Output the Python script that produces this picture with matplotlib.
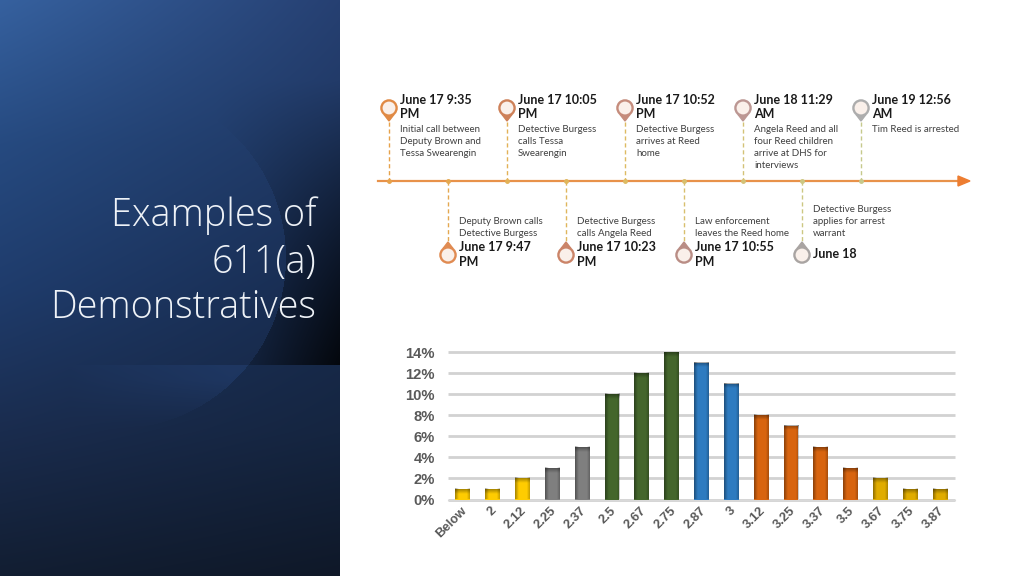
import matplotlib
matplotlib.use("Agg")
import matplotlib.pyplot as plt
from matplotlib.colors import LinearSegmentedColormap
from matplotlib.patches import Circle, Polygon
from matplotlib.transforms import ScaledTranslation
import numpy as np

plt.rcParams["font.family"] = ["Lato", "DejaVu Sans"]

title_lines = ["Examples of", "611(a)", "Demonstratives"]

top_x = [389, 507, 625, 743, 861]
top_heads = [["June 17 9:35", "PM"], ["June 17 10:05", "PM"], ["June 17 10:52", "PM"],
             ["June 18 11:29", "AM"], ["June 19 12:56", "AM"]]
top_bodies = [["Initial call between", "Deputy Brown and", "Tessa Swearengin"],
              ["Detective Burgess", "calls Tessa", "Swearengin"],
              ["Detective Burgess", "arrives at Reed", "home"],
              ["Angela Reed and all", "four Reed children", "arrive at DHS for", "interviews"],
              ["Tim Reed is arrested"]]
top_rings = ["#E08A45", "#CE8159", "#C58C7C", "#BC9793", "#ADADAD"]
top_stems = ["#E6A24A", "#E2B257", "#DDBB62", "#D3C277", "#C6C98C"]

bottom_x = [448, 566, 684, 802]
bottom_heads = [["June 17 9:47", "PM"], ["June 17 10:23", "PM"], ["June 17 10:55", "PM"], ["June 18"]]
bottom_bodies = [["Deputy Brown calls", "Detective Burgess"],
                 ["Detective Burgess", "calls Angela Reed"],
                 ["Law enforcement", "leaves the Reed home"],
                 ["Detective Burgess", "applies for arrest", "warrant"]]
bottom_rings = ["#E08B52", "#CB8468", "#B98D85", "#A9A4A2"]
bottom_stems = ["#E4A850", "#DFB65C", "#D8BF6D", "#CCC782"]

categories = ["Below", "2", "2.12", "2.25", "2.37", "2.5", "2.67", "2.75", "2.87",
              "3", "3.12", "3.25", "3.37", "3.5", "3.67", "3.75", "3.87"]
values = [1, 1, 2, 3, 5, 10, 12, 14, 13, 11, 8, 7, 5, 3, 2, 1, 1]
bar_colors = ["#FFCC00"] * 3 + ["#7F7F7F"] * 2 + ["#44662C"] * 3 + ["#2E7BC0"] * 2 + \
             ["#D8640F"] * 4 + ["#E0AC00"] * 3
y_ticks = [0, 2, 4, 6, 8, 10, 12, 14]

fig = plt.figure(figsize=(10.24, 5.76), dpi=100, facecolor="white")
page = fig.add_axes([0, 0, 1, 1])
page.axis("off")

# left panel background, blended from a few sampled colours
PANEL_W = 340
xx, yy = np.meshgrid(np.arange(PANEL_W) + 0.5, np.arange(576) + 0.5)
u = xx / PANEL_W
v = yy / 576
left = np.array([[54, 97, 159], [38, 74, 128], [31, 60, 108], [26, 44, 78], [18, 30, 50]], float)
right = np.array([[38, 64, 114], [31, 55, 98], [24, 44, 80], [21, 37, 64], [15, 24, 40]], float)
stops = np.linspace(0, 1, 5)
img = np.zeros((576, PANEL_W, 3))
for c in range(3):
    lc = np.interp(v, stops, left[:, c])
    rc = np.interp(v, stops, right[:, c])
    img[..., c] = lc + (rc - lc) * u
# dark corner above the seam, outside the big circle
dist = np.hypot(xx - 115, yy - 258)
outside = (dist > 171) & (yy < 365)
shade = np.clip((xx - 215) / 125, 0, 1) * np.clip((yy - 80) / 285, 0, 1)
img[outside] *= (1 - 0.82 * shade[outside])[:, None]
# the lower disc only shows towards its right side
glow = (dist <= 171) & (yy >= 365)
fade = np.clip((xx - 70) / 160, 0, 1) * np.clip((430 - yy) / 50, 0, 1)
img[glow] += fade[glow][:, None] * np.array([6, 11, 20])
page.imshow(img / 255, extent=(0, PANEL_W, 576, 0), aspect="auto", zorder=0, interpolation="bilinear")
page.set_xlim(0, 1024)
page.set_ylim(576, 0)

for line, y in zip(title_lines, [213, 259.5, 305]):
    page.text(316, y + 3, line, color="#EEF2F7", fontsize=27.2, fontweight="light", ha="right",
              va="center", family=["Open Sans", "DejaVu Sans"])

# timeline
page.plot([378, 960], [181, 181], color="#E8924A", lw=1.6, zorder=2)
page.add_patch(Polygon([[958, 176], [970, 181], [958, 186]], color="#ED7D31", zorder=3))


def pin(x, cy, tip, ring):
    dx = 5
    base = cy + (6.5 if tip > cy else -6.5)
    page.add_patch(Polygon([[x - dx, base], [x + dx, base], [x, tip]], color=ring, zorder=4))
    page.add_patch(Circle((x, cy), 7.6, facecolor="#FAF0EA", edgecolor=ring, lw=1.7, zorder=5))


def lines(x, ys, texts, **kw):
    for t, y in zip(texts, ys):
        page.text(x, y, t, ha="left", va="center", **kw)


head_style = dict(fontsize=9.0, fontweight="bold", color="#1A1A1A")
body_style = dict(fontsize=7.0, color="#404040")

for x, head, body, ring, stem in zip(top_x, top_heads, top_bodies, top_rings, top_stems):
    page.plot([x, x], [122, 181], color=stem, lw=1, ls=(0, (3, 2)), zorder=3)
    page.plot([x], [181], "o", ms=2.5, color=stem, zorder=3)
    pin(x, 108, 121, ring)
    lines(x + 11, [99.5, 114.5], head, **head_style)
    lines(x + 11, [129.5, 141.5, 153, 165], body, **body_style)

for x, head, body, ring, stem in zip(bottom_x, bottom_heads, bottom_bodies, bottom_rings, bottom_stems):
    page.plot([x, x], [181, 242], color=stem, lw=1, ls=(0, (3, 2)), zorder=3)
    page.plot([x], [181], "o", ms=2.5, color=stem, zorder=3)
    pin(x, 255, 242, ring)
    head_ys = [247, 262] if len(head) == 2 else [254.5]
    body_ys = [221, 233] if len(body) == 2 else [209, 221, 233]
    lines(x + 11, head_ys, head, **head_style)
    lines(x + 11, body_ys, body, **body_style)

# bar chart
ax = fig.add_axes([448 / 1024, 1 - 499.5 / 576, (955 - 448) / 1024, 147.5 / 576])
ax.patch.set_alpha(0)
pos = np.arange(len(categories))
bars = ax.bar(pos, values, width=0.5, color=bar_colors, zorder=3)
shade_cmap = LinearSegmentedColormap.from_list(
    "edge", [(0, (0, 0, 0, 0.35)), (0.25, (0, 0, 0, 0)), (0.8, (0, 0, 0, 0)), (1, (0, 0, 0, 0.22))])
top_cmap = LinearSegmentedColormap.from_list("cap", [(0, 0, 0, 0), (0, 0, 0, 0.35)])
for b in bars:
    x0, w, h = b.get_x(), b.get_width(), b.get_height()
    ax.imshow(np.linspace(0, 1, 32)[None, :], extent=(x0, x0 + w, 0, h), cmap=shade_cmap,
              aspect="auto", zorder=4)
    ax.imshow(np.linspace(0, 1, 16)[:, None], extent=(x0, x0 + w, max(h - 0.45, 0), h), cmap=top_cmap,
              origin="lower", aspect="auto", zorder=4)
ax.set_xlim(-0.5, len(categories) - 0.5)
ax.set_ylim(0, 14)
ax.set_yticks(y_ticks)
ax.set_yticklabels([f"{t}%" for t in y_ticks], family=["Liberation Sans", "DejaVu Sans"],
                   fontsize=10.6, fontweight="bold", color="#595959")
ax.set_xticks(pos)
ax.set_xticklabels(categories, rotation=45, ha="right", rotation_mode="anchor",
                   family=["Liberation Sans", "DejaVu Sans"], fontsize=9.4, fontweight="bold", color="#595959")
ax.tick_params(axis="both", length=0)
ax.tick_params(axis="x", pad=3.5)
ax.tick_params(axis="y", pad=9.5)
ax.grid(axis="y", color="#D2D2D2", lw=2, zorder=1, solid_capstyle="butt")
ax.set_axisbelow(True)
for s in ["top", "right", "left"]:
    ax.spines[s].set_visible(False)
ax.spines["bottom"].set_color("#D9D9D9")
for gl in ax.get_ygridlines():
    gl.set_clip_on(False)
shift = ScaledTranslation(-2 / 100, 0, fig.dpi_scale_trans)
for label in ax.get_xticklabels():
    label.set_transform(label.get_transform() + shift)

fig.savefig("out.png", dpi=100, facecolor="white")
